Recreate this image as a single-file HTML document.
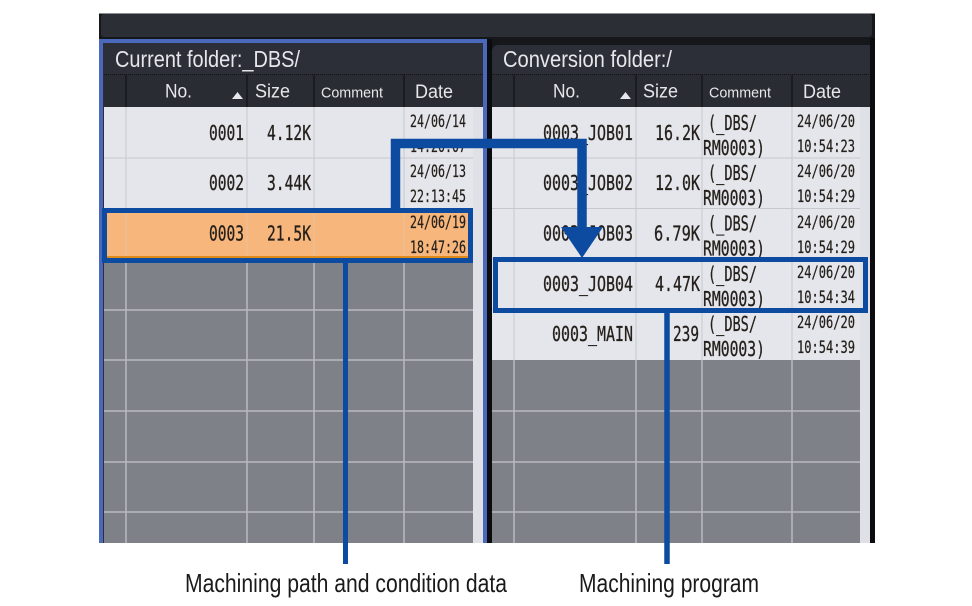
<!DOCTYPE html>
<html><head><meta charset="utf-8"><style>
html,body{margin:0;padding:0;background:#fff;}
svg{display:block;}
</style></head><body>
<svg width="972" height="606" viewBox="0 0 972 606" xmlns="http://www.w3.org/2000/svg">
<rect width="972" height="606" fill="#fff"/>
<!-- outer screen frame -->
<rect x="99" y="13" width="776" height="530" fill="#16171b"/>
<rect x="99" y="13" width="776" height="1" fill="#8a8c92"/>
<rect x="101" y="14" width="771" height="23" rx="3" fill="#2c2e36"/>

<!-- LEFT PANEL -->
<rect x="99" y="39" width="389" height="504" fill="#4a69bd"/>
<rect x="103" y="43" width="380" height="500" fill="#2c2f38"/>
<rect x="104" y="74" width="379" height="33" fill="#2a2c33"/>
<line x1="104" y1="74.5" x2="483" y2="74.5" stroke="#111" stroke-width="1" stroke-dasharray="1,1"/>
<g stroke="#15161a" stroke-width="1.5">
<line x1="126" y1="75" x2="126" y2="107"/><line x1="247" y1="75" x2="247" y2="107"/>
<line x1="314" y1="75" x2="314" y2="107"/><line x1="404" y1="75" x2="404" y2="107"/>
</g>
<!-- rows light -->
<rect x="104" y="107" width="379" height="103" fill="#e4e6eb"/>
<rect x="473" y="107" width="10" height="436" fill="#dfe1e6"/>
<!-- orange row -->
<rect x="104" y="209" width="369" height="50" fill="#f6b67c"/>
<rect x="104" y="256" width="369" height="3" fill="#e08a1a"/>
<!-- gray area -->
<rect x="104" y="259" width="369" height="284" fill="#7f8188"/>
<g stroke="#c6c8cd" stroke-width="1">
<line x1="104" y1="158" x2="473" y2="158"/><line x1="104" y1="208.5" x2="473" y2="208.5"/>
<line x1="126" y1="107" x2="126" y2="208"/><line x1="247" y1="107" x2="247" y2="208"/>
<line x1="314" y1="107" x2="314" y2="208"/><line x1="404" y1="107" x2="404" y2="208"/>
</g>
<g stroke="#e6c2a0" stroke-width="1">
<line x1="126" y1="209" x2="126" y2="256"/><line x1="247" y1="209" x2="247" y2="256"/>
<line x1="314" y1="209" x2="314" y2="256"/><line x1="404" y1="209" x2="404" y2="256"/>
</g>
<g stroke="#b8bac0" stroke-width="1.5">
<line x1="126" y1="259" x2="126" y2="543"/><line x1="247" y1="259" x2="247" y2="543"/>
<line x1="314" y1="259" x2="314" y2="543"/><line x1="404" y1="259" x2="404" y2="543"/>
<line x1="104" y1="310" x2="473" y2="310"/><line x1="104" y1="360" x2="473" y2="360"/>
<line x1="104" y1="411" x2="473" y2="411"/><line x1="104" y1="462" x2="473" y2="462"/>
<line x1="104" y1="512" x2="473" y2="512"/>
</g>
<rect x="487" y="39" width="5" height="504" fill="#0c0c0e"/>

<!-- RIGHT PANEL -->
<path d="M492 52 Q492 45 499 45 L870 45 L870 543 L492 543 Z" fill="#2c2f38"/>
<rect x="870" y="38" width="5" height="505" fill="#0c0c0e"/>
<rect x="492" y="74" width="378" height="33" fill="#2a2c33"/>
<line x1="492" y1="74.5" x2="870" y2="74.5" stroke="#111" stroke-width="1" stroke-dasharray="1,1"/>
<g stroke="#15161a" stroke-width="1.5">
<line x1="514" y1="75" x2="514" y2="107"/><line x1="636" y1="75" x2="636" y2="107"/>
<line x1="702" y1="75" x2="702" y2="107"/><line x1="792" y1="75" x2="792" y2="107"/>
</g>
<rect x="492" y="107" width="378" height="253" fill="#e4e6eb"/>
<rect x="860" y="107" width="10" height="436" fill="#dfe1e6"/>
<rect x="492" y="360" width="368" height="183" fill="#7f8188"/>
<g stroke="#c6c8cd" stroke-width="1">
<line x1="492" y1="158" x2="860" y2="158"/><line x1="492" y1="208.5" x2="860" y2="208.5"/>
<line x1="492" y1="259" x2="860" y2="259"/><line x1="492" y1="309" x2="860" y2="309"/>
<line x1="514" y1="107" x2="514" y2="360"/><line x1="636" y1="107" x2="636" y2="360"/>
<line x1="702" y1="107" x2="702" y2="360"/><line x1="792" y1="107" x2="792" y2="360"/>
</g>
<g stroke="#b8bac0" stroke-width="1.5">
<line x1="514" y1="360" x2="514" y2="543"/><line x1="636" y1="360" x2="636" y2="543"/>
<line x1="702" y1="360" x2="702" y2="543"/><line x1="792" y1="360" x2="792" y2="543"/>
<line x1="492" y1="411" x2="860" y2="411"/><line x1="492" y1="462" x2="860" y2="462"/>
<line x1="492" y1="512" x2="860" y2="512"/>
</g>

<!-- titles & headers -->
<g font-family="Liberation Sans, sans-serif" fill="#e6e7ea">
<text x="115" y="67" font-size="23" textLength="185" lengthAdjust="spacingAndGlyphs">Current folder:_DBS/</text>
<text x="503" y="67" font-size="23" textLength="169" lengthAdjust="spacingAndGlyphs">Conversion folder:/</text>
<text x="165" y="97.5" font-size="19" textLength="27" lengthAdjust="spacingAndGlyphs">No.</text>
<text x="255" y="97.5" font-size="19" textLength="35" lengthAdjust="spacingAndGlyphs">Size</text>
<text x="321" y="97.5" font-size="15" textLength="62" lengthAdjust="spacingAndGlyphs">Comment</text>
<text x="415" y="98" font-size="19" textLength="38" lengthAdjust="spacingAndGlyphs">Date</text>
<text x="553" y="97.5" font-size="19" textLength="27" lengthAdjust="spacingAndGlyphs">No.</text>
<text x="643" y="97.5" font-size="19" textLength="35" lengthAdjust="spacingAndGlyphs">Size</text>
<text x="709" y="97.5" font-size="15" textLength="62" lengthAdjust="spacingAndGlyphs">Comment</text>
<text x="803" y="98" font-size="19" textLength="38" lengthAdjust="spacingAndGlyphs">Date</text>
</g>
<polygon points="232,99 243,99 237.5,92" fill="#e6e7ea"/>
<polygon points="620,99 631,99 625.5,92" fill="#e6e7ea"/>

<!-- data left -->
<g font-family="DejaVu Sans Mono, Liberation Mono, monospace" fill="#241f1a" stroke="#241f1a" stroke-width="0.3" font-size="20" text-anchor="end">
<text x="244" y="140" textLength="35" lengthAdjust="spacingAndGlyphs">0001</text>
<text x="311" y="140" textLength="44" lengthAdjust="spacingAndGlyphs">4.12K</text>
<text x="244" y="190" textLength="35" lengthAdjust="spacingAndGlyphs">0002</text>
<text x="311" y="190" textLength="44" lengthAdjust="spacingAndGlyphs">3.44K</text>
<text x="244" y="240.5" textLength="35" lengthAdjust="spacingAndGlyphs">0003</text>
<text x="311" y="240.5" textLength="44" lengthAdjust="spacingAndGlyphs">21.5K</text>
</g>
<g font-family="DejaVu Sans Mono, Liberation Mono, monospace" fill="#241f1a" stroke="#241f1a" stroke-width="0.25" font-size="16.5">
<text x="410" y="127" textLength="56" lengthAdjust="spacingAndGlyphs">24/06/14</text>
<text x="410" y="152" textLength="56" lengthAdjust="spacingAndGlyphs">14:20:07</text>
<text x="410" y="177" textLength="56" lengthAdjust="spacingAndGlyphs">24/06/13</text>
<text x="410" y="202" textLength="56" lengthAdjust="spacingAndGlyphs">22:13:45</text>
<text x="410" y="228" textLength="56" lengthAdjust="spacingAndGlyphs">24/06/19</text>
<text x="410" y="253" textLength="56" lengthAdjust="spacingAndGlyphs">18:47:26</text>
</g>

<!-- data right -->
<g font-family="DejaVu Sans Mono, Liberation Mono, monospace" fill="#241f1a" stroke="#241f1a" stroke-width="0.3" font-size="20" text-anchor="end">
<text x="633" y="140" textLength="90" lengthAdjust="spacingAndGlyphs">0003_JOB01</text>
<text x="700" y="140" textLength="45" lengthAdjust="spacingAndGlyphs">16.2K</text>
<text x="633" y="190" textLength="90" lengthAdjust="spacingAndGlyphs">0003_JOB02</text>
<text x="700" y="190" textLength="45" lengthAdjust="spacingAndGlyphs">12.0K</text>
<text x="633" y="240.5" textLength="90" lengthAdjust="spacingAndGlyphs">0003_JOB03</text>
<text x="700" y="240.5" textLength="46" lengthAdjust="spacingAndGlyphs">6.79K</text>
<text x="633" y="291" textLength="90" lengthAdjust="spacingAndGlyphs">0003_JOB04</text>
<text x="700" y="291" textLength="45" lengthAdjust="spacingAndGlyphs">4.47K</text>
<text x="633" y="341" textLength="81" lengthAdjust="spacingAndGlyphs">0003_MAIN</text>
<text x="699" y="341" textLength="26" lengthAdjust="spacingAndGlyphs">239</text>
</g>
<g font-family="DejaVu Sans Mono, Liberation Mono, monospace" fill="#241f1a" stroke="#241f1a" stroke-width="0.3" font-size="20">
<text x="708" y="130" textLength="49" lengthAdjust="spacingAndGlyphs">(_DBS/</text>
<text x="703" y="155" textLength="62" lengthAdjust="spacingAndGlyphs">RM0003)</text>
<text x="708" y="180" textLength="49" lengthAdjust="spacingAndGlyphs">(_DBS/</text>
<text x="703" y="205" textLength="62" lengthAdjust="spacingAndGlyphs">RM0003)</text>
<text x="708" y="230.5" textLength="49" lengthAdjust="spacingAndGlyphs">(_DBS/</text>
<text x="703" y="255.5" textLength="62" lengthAdjust="spacingAndGlyphs">RM0003)</text>
<text x="708" y="281" textLength="49" lengthAdjust="spacingAndGlyphs">(_DBS/</text>
<text x="703" y="306" textLength="62" lengthAdjust="spacingAndGlyphs">RM0003)</text>
<text x="708" y="331" textLength="49" lengthAdjust="spacingAndGlyphs">(_DBS/</text>
<text x="703" y="356" textLength="62" lengthAdjust="spacingAndGlyphs">RM0003)</text>
</g>
<g font-family="DejaVu Sans Mono, Liberation Mono, monospace" fill="#241f1a" stroke="#241f1a" stroke-width="0.25" font-size="16.5">
<text x="797" y="127" textLength="58" lengthAdjust="spacingAndGlyphs">24/06/20</text>
<text x="797" y="152" textLength="58" lengthAdjust="spacingAndGlyphs">10:54:23</text>
<text x="797" y="177" textLength="58" lengthAdjust="spacingAndGlyphs">24/06/20</text>
<text x="797" y="202" textLength="58" lengthAdjust="spacingAndGlyphs">10:54:29</text>
<text x="797" y="228" textLength="58" lengthAdjust="spacingAndGlyphs">24/06/20</text>
<text x="797" y="253" textLength="58" lengthAdjust="spacingAndGlyphs">10:54:29</text>
<text x="797" y="278" textLength="58" lengthAdjust="spacingAndGlyphs">24/06/20</text>
<text x="797" y="303" textLength="58" lengthAdjust="spacingAndGlyphs">10:54:34</text>
<text x="797" y="328" textLength="58" lengthAdjust="spacingAndGlyphs">24/06/20</text>
<text x="797" y="353" textLength="58" lengthAdjust="spacingAndGlyphs">10:54:39</text>
</g>

<!-- annotations -->
<g fill="none" stroke="#0c4b9f">
<rect x="104.5" y="210.5" width="366" height="50" stroke-width="5"/>
<rect x="495.5" y="259.5" width="370" height="51" stroke-width="5"/>
<polyline points="395.5,210 395.5,143.5 582,143.5 582,229" stroke-width="9.5" stroke-linejoin="miter"/>
<line x1="345.5" y1="262" x2="345.5" y2="564" stroke-width="5"/>
<line x1="667" y1="312" x2="667" y2="564" stroke-width="5.5"/>
</g>
<polygon points="561,227 603,227 582,258" fill="#0c4b9f"/>

<!-- captions -->
<g font-family="Liberation Sans, sans-serif" fill="#1a1a1a" font-size="26">
<text x="185" y="592" textLength="322" lengthAdjust="spacingAndGlyphs">Machining path and condition data</text>
<text x="579" y="592" textLength="180" lengthAdjust="spacingAndGlyphs">Machining program</text>
</g>
</svg>
</body></html>
